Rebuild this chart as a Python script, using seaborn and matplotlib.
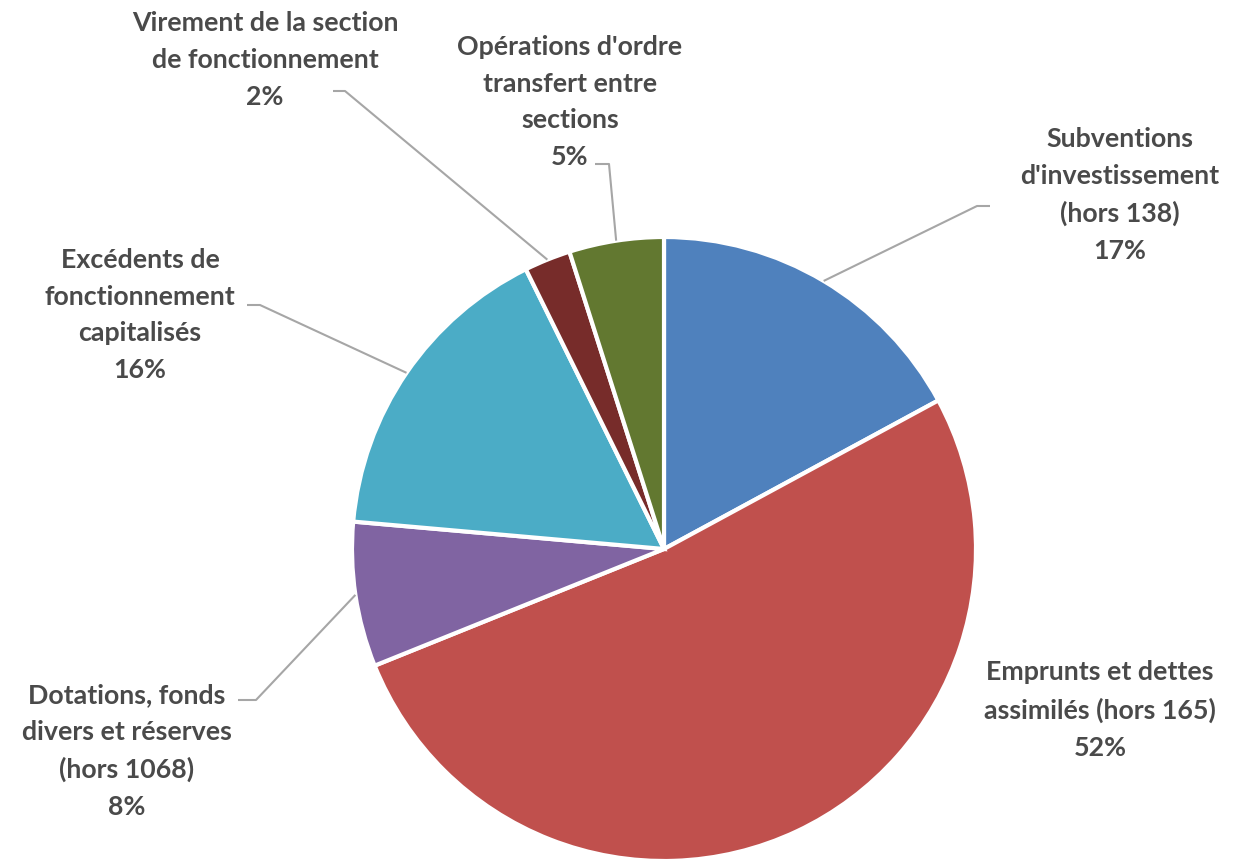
import numpy as np
import matplotlib
matplotlib.use("Agg")
import matplotlib.pyplot as plt
import seaborn as sns

# Data (share of the investment receipts, %)
categories = [
    "Subventions\nd'investissement\n(hors 138)",
    "Emprunts et dettes\nassimilés (hors 165)",
    "Dotations, fonds\ndivers et réserves\n(hors 1068)",
    "Excédents de\nfonctionnement\ncapitalisés",
    "Virement de la section\nde fonctionnement",
    "Opérations d'ordre\ntransfert entre\nsections",
]
values = [17.1, 51.8, 7.5, 16.3, 2.4, 4.9]
colors = ["#4F81BD", "#C0504D", "#8064A2", "#4BACC6", "#772C2A", "#627830"]

# Label layout in pixel coords (x, y from top): label centre, elbow, end of tick
label_pos = [(1120, 195), (1100, 710), (127, 751), (140, 315), (265, 60), (570, 102)]
elbows = [(977, 207), None, (256, 701), (260, 306), (345, 92), (609, 165)]
ticks = [(990, 207), None, (238, 701), (247, 306), (333, 92), (595, 165)]

W, H = 1236, 862
cx, cy, r = 664, 550, 312

sns.set_theme(style="white")
plt.rcParams["font.family"] = ["Lato", "DejaVu Sans"]

fig = plt.figure(figsize=(W / 100, H / 100), dpi=100)
ax = fig.add_axes([0, 0, 1, 1])

wedges, _ = ax.pie(values, colors=colors, startangle=90, counterclock=False,
                   center=(cx, H - cy), radius=r,
                   wedgeprops=dict(edgecolor="white", linewidth=3))
ax.set_xlim(0, W)
ax.set_ylim(0, H)
ax.set_aspect("equal")
ax.axis("off")

text_color = "#4a4a4a"
line_color = "#A6A6A6"
for w, cat, v, pos, elb, tk in zip(wedges, categories, values, label_pos, elbows, ticks):
    ax.text(pos[0], H - pos[1], f"{cat}\n{v:.0f}%", ha="center", va="center",
            multialignment="center", fontsize=19.3, fontweight="bold",
            color=text_color, linespacing=1.63)
    if elb is None:
        continue
    mid = np.deg2rad((w.theta1 + w.theta2) / 2)
    ex = cx + r * np.cos(mid)
    ey = (H - cy) + r * np.sin(mid)
    ax.plot([ex, elb[0], tk[0]], [ey, H - elb[1], H - tk[1]],
            color=line_color, linewidth=1.5, solid_capstyle="butt")

fig.savefig("out.png", dpi=100, facecolor="white")
